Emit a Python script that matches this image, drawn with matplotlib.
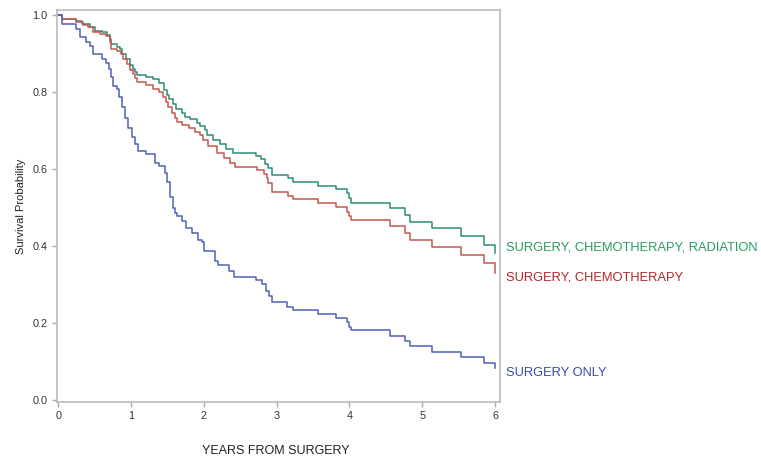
import matplotlib
matplotlib.use("Agg")
import matplotlib.pyplot as plt

plt.rcParams['font.family'] = ['Liberation Sans', 'DejaVu Sans']

# Surgery only
t_surg = [0, 0.05, 0.24, 0.30, 0.38, 0.43, 0.48, 0.60, 0.66, 0.70, 0.72, 0.75, 0.80, 0.83, 0.87,
          0.92, 0.96, 1.01, 1.06, 1.09, 1.21, 1.33, 1.39, 1.46, 1.50, 1.54, 1.58, 1.60, 1.63, 1.70,
          1.76, 1.83, 1.92, 1.97, 2.00, 2.15, 2.20, 2.34, 2.42, 2.72, 2.80, 2.85, 2.90, 2.93, 3.14,
          3.23, 3.57, 3.81, 3.96, 3.99, 4.02, 4.56, 4.76, 4.83, 5.14, 5.53, 5.85, 6.0]
s_surg = [1.0, 0.977, 0.965, 0.942, 0.931, 0.920, 0.898, 0.885, 0.876, 0.861, 0.84, 0.815, 0.807,
          0.788, 0.762, 0.732, 0.706, 0.684, 0.665, 0.648, 0.639, 0.616, 0.608, 0.589, 0.567, 0.528,
          0.499, 0.485, 0.479, 0.466, 0.446, 0.435, 0.416, 0.41, 0.388, 0.362, 0.351, 0.335, 0.320,
          0.312, 0.301, 0.284, 0.271, 0.254, 0.242, 0.234, 0.223, 0.212, 0.203, 0.190, 0.182, 0.167,
          0.154, 0.140, 0.126, 0.113, 0.095, 0.084]

# Surgery, chemotherapy, radiation
t_scr = [0, 0.05, 0.25, 0.32, 0.44, 0.50, 0.60, 0.67, 0.71, 0.73, 0.81, 0.85, 0.88, 0.93, 0.98,
         1.02, 1.05, 1.08, 1.21, 1.30, 1.39, 1.45, 1.49, 1.52, 1.57, 1.61, 1.70, 1.74, 1.81, 1.90,
         1.95, 2.01, 2.04, 2.13, 2.22, 2.31, 2.40, 2.72, 2.79, 2.84, 2.88, 2.93, 3.15, 3.23, 3.57,
         3.81, 3.96, 3.99, 4.02, 4.55, 4.76, 4.83, 5.14, 5.53, 5.85, 6.0]
s_scr = [1.0, 0.99, 0.985, 0.977, 0.97, 0.959, 0.955, 0.948, 0.937, 0.925, 0.918, 0.911, 0.900,
         0.887, 0.870, 0.861, 0.853, 0.844, 0.838, 0.833, 0.823, 0.805, 0.792, 0.781, 0.769, 0.755,
         0.745, 0.736, 0.729, 0.720, 0.712, 0.701, 0.688, 0.675, 0.665, 0.652, 0.642, 0.635, 0.626,
         0.612, 0.602, 0.584, 0.578, 0.566, 0.557, 0.548, 0.537, 0.524, 0.511, 0.498, 0.481, 0.463,
         0.446, 0.426, 0.404, 0.381]

# Surgery, chemotherapy
t_sc = [0, 0.05, 0.25, 0.34, 0.41, 0.48, 0.57, 0.66, 0.71, 0.73, 0.81, 0.86, 0.89, 0.94, 0.99,
        1.02, 1.05, 1.08, 1.21, 1.30, 1.39, 1.44, 1.48, 1.51, 1.56, 1.60, 1.63, 1.70, 1.79, 1.88,
        1.95, 1.99, 2.06, 2.18, 2.27, 2.36, 2.43, 2.73, 2.82, 2.86, 2.88, 2.93, 3.15, 3.23, 3.57,
        3.81, 3.96, 3.99, 4.02, 4.56, 4.76, 4.83, 5.14, 5.53, 5.85, 6.0]
s_sc = [1.0, 0.99, 0.983, 0.974, 0.97, 0.957, 0.952, 0.946, 0.931, 0.913, 0.907, 0.899, 0.887,
        0.874, 0.857, 0.847, 0.837, 0.827, 0.818, 0.807, 0.801, 0.788, 0.775, 0.762, 0.746, 0.732,
        0.723, 0.714, 0.706, 0.697, 0.688, 0.675, 0.660, 0.641, 0.630, 0.615, 0.606, 0.597, 0.587,
        0.576, 0.564, 0.540, 0.530, 0.522, 0.512, 0.502, 0.489, 0.478, 0.467, 0.452, 0.435, 0.417,
        0.397, 0.377, 0.355, 0.331]

labels = ["SURGERY, CHEMOTHERAPY, RADIATION", "SURGERY, CHEMOTHERAPY", "SURGERY ONLY"]
label_y = [0.395, 0.319, 0.07]
x_ticks = [0, 1, 2, 3, 4, 5, 6]
y_ticks = [0.0, 0.2, 0.4, 0.6, 0.8, 1.0]

line_colors = ["#2E8B76", "#C4574C", "#4F60B6"]
text_colors = ["#2A9A5C", "#B3262B", "#3A48AA"]

fig = plt.figure(figsize=(7.61, 4.61), dpi=100)
ax = fig.add_axes([0.0745, 0.1286, 0.5825, 0.8494])

series = [(t_scr, s_scr), (t_sc, s_sc), (t_surg, s_surg)]
for (t, s), c in zip(series, line_colors):
    ax.step(t, s, where='post', color=c, lw=1.1)

for lab, y, c in zip(labels, label_y, text_colors):
    ax.text(6.15, y, lab, color=c, fontsize=9.25, va='center', ha='left', clip_on=False)

ax.set_xlim(-0.022, 6.067)
ax.set_ylim(-0.0044, 1.013)
ax.set_xticks(x_ticks)
ax.set_xticklabels([str(v) for v in x_ticks])
ax.set_yticks(y_ticks)
ax.set_yticklabels([f"{v:.1f}" for v in y_ticks])
ax.tick_params(direction='out', length=3.5, width=1, color='#AAAAAA', labelsize=7.8,
               labelcolor='#333333', pad=3)
for sp in ax.spines.values():
    sp.set_color('#BBBBBB')
    sp.set_linewidth(1.2)

ax.set_ylabel("Survival Probability", fontsize=8, color='#222222', labelpad=5)
fig.text(0.362, 0.008, "YEARS FROM SURGERY", fontsize=9, color='#222222', ha='center', va='bottom')

fig.savefig("out.png", dpi=100)
